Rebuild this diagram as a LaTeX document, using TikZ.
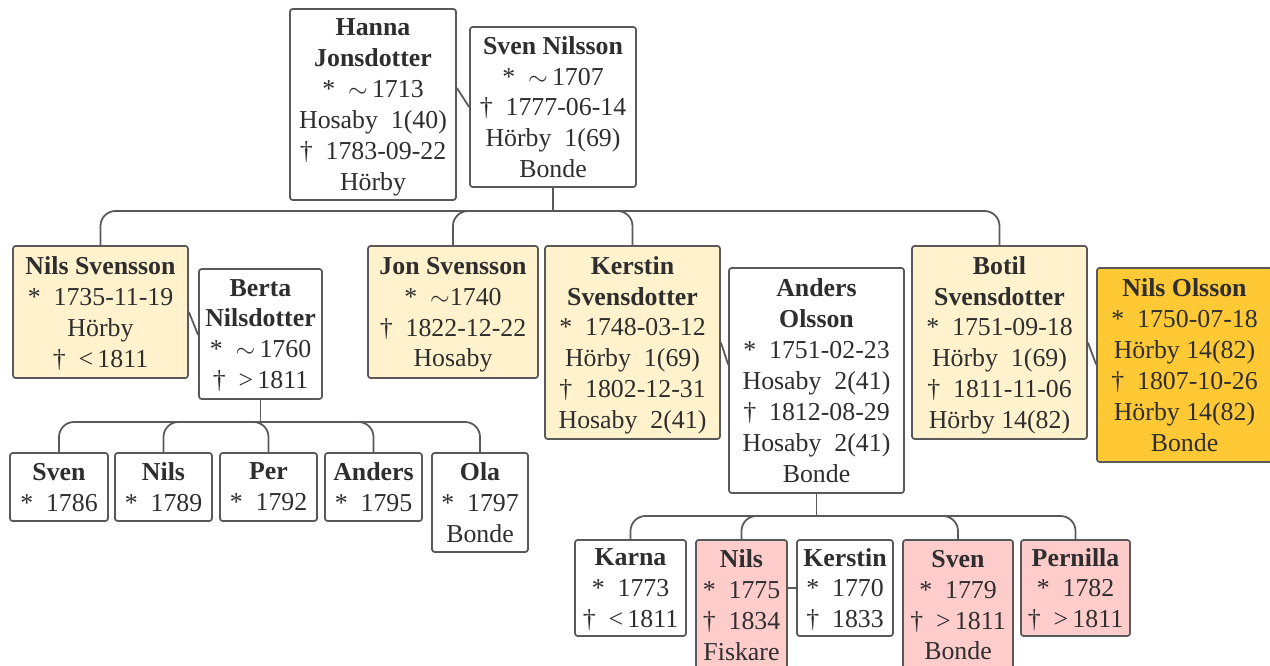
\documentclass[tikz,border=0pt]{standalone}
\usepackage{fontspec}
\setmainfont{Liberation Serif}
\definecolor{boxline}{HTML}{595959}
\definecolor{textdark}{HTML}{2E2E2E}
\definecolor{lightgold}{HTML}{FFF2CC}
\definecolor{gold}{HTML}{FFC935}
\definecolor{rosy}{HTML}{FFCCCC}

\begin{document}
\begin{tikzpicture}[
every node/.style={
draw=boxline,
line width=1pt,
rounded corners=1.5pt,
align=center,
text=textdark,
fill=white,
inner sep=1pt,
text depth=0pt,
font=\fontsize{14.7}{17.6}\selectfont
},
kin/.style={fill=lightgold},
hub/.style={fill=gold},
grandchild/.style={fill=rosy},
link/.style={draw=boxline, line width=1pt, rounded corners=0.3cm}
]

\useasboundingbox[fill=white] (0,0) rectangle (25.4,-13.32);

\node[minimum width=3.32cm, minimum height=3.82cm] (HJ)
at (7.46,-2.09)
{\textbf{Hanna}\\\textbf{Jonsdotter}\\{*}~~$\sim$\,1713\\Hosaby~~1(40)\\†~~1783-09-22\\Hörby};

\node[minimum width=3.32cm, minimum height=3.2cm] (SN)
at (11.06,-2.14)
{\textbf{Sven Nilsson}\\{*}~~$\sim$\,1707\\†~~1777-06-14\\Hörby~~1(69)\\Bonde};

\node[kin, minimum width=3.5cm, minimum height=2.64cm] (NS)
at (2.01,-6.24)
{\textbf{Nils Svensson}\\{*}~~1735-11-19\\Hörby\\†~~<\,1811};

\node[minimum width=2.46cm, minimum height=2.6cm] (BN)
at (5.21,-6.68)
{\textbf{Berta}\\\textbf{Nilsdotter}\\{*}~~$\sim$\,1760\\†~~>\,1811};

\node[kin, minimum width=3.4cm, minimum height=2.64cm] (JS)
at (9.06,-6.24)
{\textbf{Jon Svensson}\\{*}~~$\sim$1740\\†~~1822-12-22\\Hosaby};

\node[kin, minimum width=3.5cm, minimum height=3.86cm] (KS)
at (12.65,-6.85)
{\textbf{Kerstin}\\\textbf{Svensdotter}\\{*}~~1748-03-12\\Hörby~~1(69)\\†~~1802-12-31\\Hosaby~~2(41)};

\node[minimum width=3.5cm, minimum height=4.5cm] (AO)
at (16.33,-7.61)
{\textbf{Anders}\\\textbf{Olsson}\\{*}~~1751-02-23\\Hosaby~~2(41)\\†~~1812-08-29\\Hosaby~~2(41)\\Bonde};

\node[kin, minimum width=3.5cm, minimum height=3.86cm] (BS)
at (19.99,-6.85)
{\textbf{Botil}\\\textbf{Svensdotter}\\{*}~~1751-09-18\\Hörby~~1(69)\\†~~1811-11-06\\Hörby 14(82)};

\node[hub, minimum width=3.5cm, minimum height=3.88cm] (NO)
at (23.69,-7.30)
{\textbf{Nils Olsson}\\{*}~~1750-07-18\\Hörby 14(82)\\†~~1807-10-26\\Hörby 14(82)\\Bonde};

\node[minimum width=1.96cm, minimum height=1.36cm] (SB)
at (1.18,-9.74)
{\textbf{Sven}\\{*}~~1786};

\node[minimum width=1.94cm, minimum height=1.36cm] (NB)
at (3.27,-9.74)
{\textbf{Nils}\\{*}~~1789};

\node[minimum width=1.94cm, minimum height=1.36cm] (PB)
at (5.37,-9.74)
{\textbf{Per}\\{*}~~1792};

\node[minimum width=1.94cm, minimum height=1.36cm] (AB)
at (7.47,-9.74)
{\textbf{Anders}\\{*}~~1795};

\node[minimum width=1.92cm, minimum height=1.98cm] (OB)
at (9.6,-10.05)
{\textbf{Ola}\\{*}~~1797\\Bonde};

\node[minimum width=2.22cm, minimum height=1.92cm] (KA)
at (12.61,-11.76)
{\textbf{Karna}\\{*}~~1773\\†~~<\,1811};

\node[grandchild, minimum width=1.82cm, minimum height=2.6cm] (NA)
at (14.83,-12.10)
{\textbf{Nils}\\{*}~~1775\\†~~1834\\Fiskare};

\node[minimum width=1.92cm, minimum height=1.92cm] (KN)
at (16.9,-11.76)
{\textbf{Kerstin}\\{*}~~1770\\†~~1833};

\node[grandchild, minimum width=2.2cm, minimum height=2.6cm] (SA)
at (19.16,-12.10)
{\textbf{Sven}\\{*}~~1779\\†~~>\,1811\\Bonde};

\node[grandchild, minimum width=2.18cm, minimum height=1.92cm] (PA)
at (21.51,-11.76)
{\textbf{Pernilla}\\{*}~~1782\\†~~>\,1811};

\draw[link] ([yshift=0.38cm]SN.west -| HJ.east) -- (SN.west);
\draw[link] (NS.east) -- ([yshift=-0.46cm]NS.east -| BN.west);
\draw[link] (KS.east) -- ([yshift=-0.44cm]KS.east -| AO.west);
\draw[link] (BS.east) -- ([yshift=-0.44cm]BS.east -| NO.west);
\draw[link] (KN.west -| NA.east) -- (KN.west);

\draw[link] (SN.south) -- (SN.south |- 0,-4.22);
\draw[link] (SN.south |- 0,-4.22) -| (NS.north);
\draw[link] (SN.south |- 0,-4.22) -| (JS.north);
\draw[link] (SN.south |- 0,-4.22) -| (KS.north);
\draw[link] (SN.south |- 0,-4.22) -| (BS.north);

\draw[link] (BN.south) -- (BN.south |- 0,-8.44);
\draw[link] (BN.south |- 0,-8.44) -| (SB.north);
\draw[link] (BN.south |- 0,-8.44) -| (NB.north);
\draw[link] (BN.south |- 0,-8.44) -| (PB.north);
\draw[link] (BN.south |- 0,-8.44) -| (AB.north);
\draw[link] (BN.south |- 0,-8.44) -| (OB.north);

\draw[link] (AO.south) -- (AO.south |- 0,-10.32);
\draw[link] (AO.south |- 0,-10.32) -| (KA.north);
\draw[link] (AO.south |- 0,-10.32) -| (NA.north);
\draw[link] (AO.south |- 0,-10.32) -| (SA.north);
\draw[link] (AO.south |- 0,-10.32) -| (PA.north);

\end{tikzpicture}
\end{document}
